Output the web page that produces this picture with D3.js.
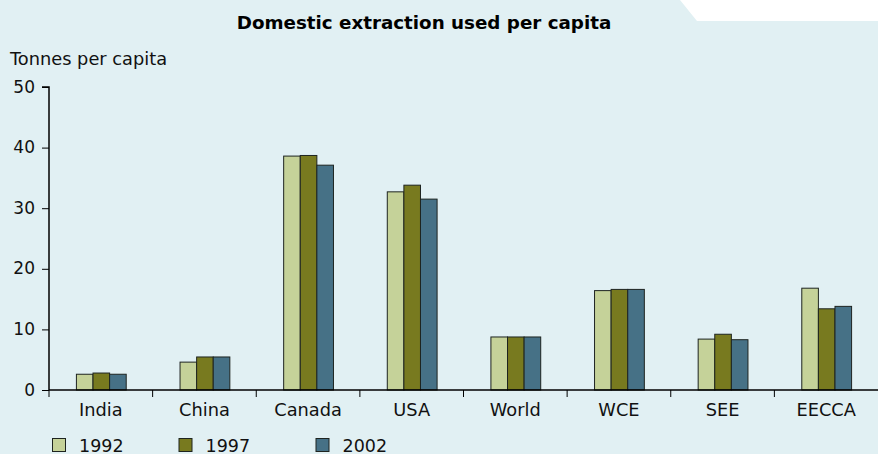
<!DOCTYPE html>
<html><head><meta charset="utf-8">
<script src="https://cdn.jsdelivr.net/npm/d3@7"></script>
<style>html,body{margin:0;padding:0;background:#e1f0f3;}svg{display:block;font-family:"DejaVu Sans",Verdana,sans-serif;}</style>
</head><body><svg id="c" width="878" height="454"></svg>
<script>
const categories = ["India","China","Canada","USA","World","WCE","SEE","EECCA"];
const series = ["1992","1997","2002"];
const v1992 = [2.6, 4.6, 38.6, 32.7, 8.75, 16.4, 8.4, 16.8];
const v1997 = [2.8, 5.45, 38.7, 33.8, 8.75, 16.6, 9.2, 13.4];
const v2002 = [2.6, 5.45, 37.1, 31.5, 8.75, 16.6, 8.3, 13.8];
const yTicks = [0,10,20,30,40,50];
const colors = ["#c5d299","#787a1f","#467186"];
const title = "Domestic extraction used per capita";
const yTitle = "Tonnes per capita";

const values = [v1992, v1997, v2002];
const FONT = "DejaVu Sans, Verdana, sans-serif";
const svg = d3.select("#c");
svg.append("rect").attr("width",878).attr("height",454).attr("fill","#e1f0f3");
svg.append("path").attr("d","M680,0L878,0L878,21L697,21Z").attr("fill","#ffffff");

const m = {l:49, r:878, t:87, b:390};
const x = d3.scaleBand().domain(categories).range([m.l, m.r]).paddingInner(0).paddingOuter(0);
const y = d3.scaleLinear().domain([0,50]).range([m.b, m.t]);
const bw = 16.6;

svg.append("text").attr("x",424).attr("y",29).attr("text-anchor","middle")
  .attr("font-weight","bold").attr("font-size",18.3).attr("fill","#000").text(title);
svg.append("text").attr("x",10).attr("y",64.5).attr("font-size",17.8).attr("fill","#111").text(yTitle);

const g = svg.append("g");
categories.forEach((c,i)=>{
  const cx = x(c) + x.bandwidth()/2;
  series.forEach((s,j)=>{
    const val = values[j][i];
    g.append("rect")
      .attr("x", cx - 1.5*bw + j*bw + 0.5)
      .attr("y", y(val))
      .attr("width", bw)
      .attr("height", y(0)-y(val))
      .attr("fill", colors[j]).attr("stroke","#1e2420").attr("stroke-width",1);
  });
});

const ya = d3.axisLeft(y).tickValues(yTicks).tickSize(7).tickPadding(7);
const yg = svg.append("g").attr("transform",`translate(${m.l},0)`).call(ya);
yg.select(".domain").attr("d",`M-7,${y(50)}H0V${y(0)}`).attr("stroke","#000").attr("stroke-width",1.5);
yg.selectAll(".tick line").attr("stroke","#000").attr("stroke-width",1);
yg.selectAll(".tick text").attr("font-size",17).attr("fill","#111").attr("font-family",FONT).attr("dy","0.3em");

const xa = d3.axisBottom(x).tickSize(0).tickPadding(13);
const xg = svg.append("g").attr("transform",`translate(0,${m.b})`).call(xa);
xg.select(".domain").attr("d",`M${m.l},0H${m.r}`).attr("stroke","#000").attr("stroke-width",1.5);
xg.selectAll(".tick text").attr("font-size",17.8).attr("fill","#111").attr("font-family",FONT);
categories.forEach((c,i)=>{
  const xx = x(c);
  svg.append("line").attr("x1",xx).attr("x2",xx).attr("y1",m.b).attr("y2",m.b+7).attr("stroke","#000").attr("stroke-width",1);
});

const legX = [52, 178.5, 315.5];
series.forEach((s,j)=>{
  svg.append("rect").attr("x",legX[j]+0.5).attr("y",438.5).attr("width",13).attr("height",13)
    .attr("fill",colors[j]).attr("stroke","#1e2420").attr("stroke-width",1);
  svg.append("text").attr("x",legX[j]+27).attr("y",451.5).attr("font-size",17.5).attr("fill","#111").text(s);
});
</script></body></html>
